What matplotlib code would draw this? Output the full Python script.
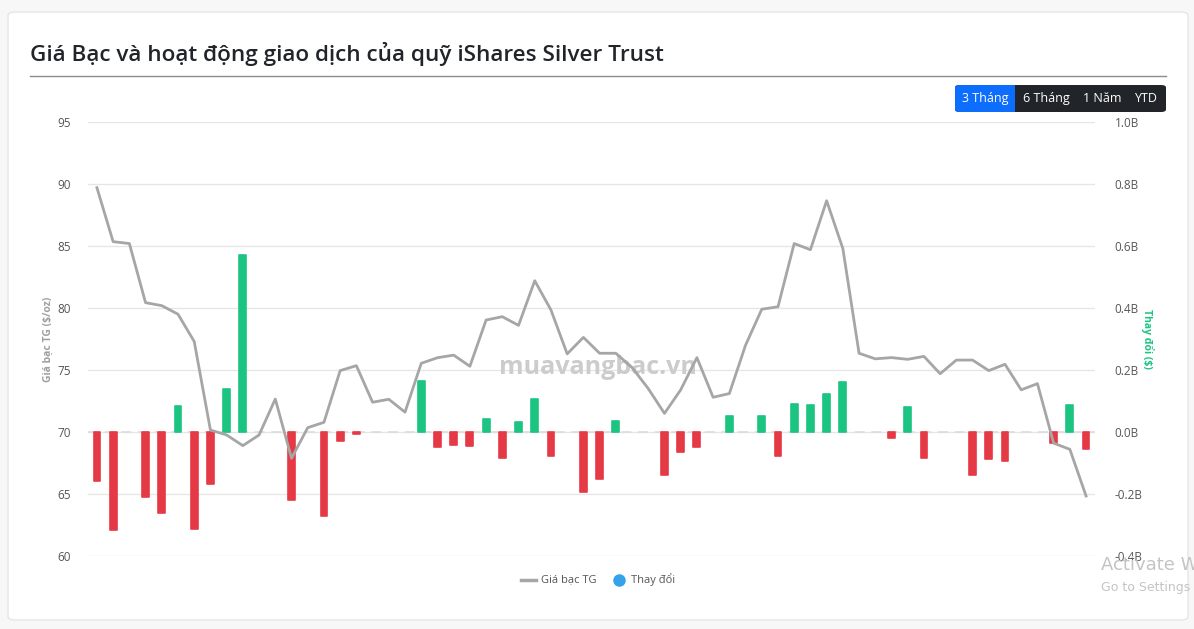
import numpy as np
import matplotlib
matplotlib.use("Agg")
import matplotlib.pyplot as plt
from matplotlib.patches import FancyBboxPatch, Rectangle
from matplotlib.lines import Line2D

# silver price (USD/oz) and daily fund flow change (billion USD), 62 sessions
price = [89.7, 85.35, 85.2, 80.43, 80.19, 79.5, 77.3, 70.16, 69.76, 68.9,
         69.76, 72.66, 67.88, 70.35, 70.78, 74.95, 75.35, 72.4, 72.64, 71.6,
         75.54, 75.99, 76.2, 75.3, 79.03, 79.3, 78.6, 82.2, 79.84, 76.3,
         77.63, 76.35, 76.35, 75.2, 73.5, 71.5, 73.4, 76.0, 72.8, 73.1,
         77.0, 79.9, 80.1, 85.2, 84.7, 88.65, 84.8, 76.35, 75.9, 76.0,
         75.86, 76.1, 74.7, 75.8, 75.8, 74.95, 75.46, 73.4, 73.9, 69.1,
         68.6, 64.84]
change = [-0.157, -0.316, 0, -0.21, -0.262, 0.085, -0.313, -0.167, 0.14, 0.57,
          0, 0, -0.22, 0, -0.272, -0.03, -0.005, 0, 0, 0,
          0.163, -0.05, -0.042, -0.044, 0.042, -0.084, 0.032, 0.106, -0.077, 0,
          -0.192, -0.152, 0.037, 0, 0, -0.14, -0.063, -0.05, 0, 0.05,
          0, 0.05, -0.077, 0.09, 0.087, 0.123, 0.16, 0, 0, -0.02,
          0.082, -0.085, 0, 0, -0.139, -0.087, -0.092, 0, 0, -0.036,
          0.086, -0.055]

left_ticks = [60, 65, 70, 75, 80, 85, 90, 95]
right_ticks = [-0.4, -0.2, 0.0, 0.2, 0.4, 0.6, 0.8, 1.0]
buttons = ["3 Tháng", "6 Tháng", "1 Năm", "YTD"]
title = "Giá Bạc và hoạt động giao dịch của quỹ iShares Silver Trust"

W, H = 1194, 629
GREEN = "#1cc482"
RED = "#e63946"
GRAY = "#a6a6a6"
plt.rcParams["font.family"] = ["Open Sans", "DejaVu Sans"]

fig = plt.figure(figsize=(W / 100, H / 100), dpi=100, facecolor="#f7f7f7")


def fx(x):
    return x / W


def fy(y):
    return 1 - y / H


# card background
card = FancyBboxPatch((fx(8), fy(620)), fx(1180), fy(12) - fy(620),
                      boxstyle="round,pad=0,rounding_size=0.006",
                      transform=fig.transFigure, facecolor="white",
                      edgecolor="#e6e6e6", lw=1, zorder=-5)
fig.patches.append(card)

fig.text(fx(30), fy(54), title, fontsize=16.2, fontweight=600,
         color="#212529", va="center", ha="left")
fig.add_artist(Line2D([fx(30), fx(1166)], [fy(76), fy(76)],
                      transform=fig.transFigure, color="#8c8c8c", lw=1))

# period buttons
bx = [955, 1015, 1077, 1127, 1166]
grp = FancyBboxPatch((fx(955), fy(112)), fx(211), fy(85) - fy(112),
                     boxstyle="round,pad=0,rounding_size=0.004",
                     transform=fig.transFigure, facecolor="#212529",
                     edgecolor="none", zorder=1)
fig.patches.append(grp)
fig.patches.append(FancyBboxPatch((fx(955), fy(112)), fx(60), fy(85) - fy(112),
                                  boxstyle="round,pad=0,rounding_size=0.004",
                                  transform=fig.transFigure, facecolor="#0d6efd",
                                  edgecolor="none", zorder=2))
fig.patches.append(Rectangle((fx(1005), fy(112)), fx(10), fy(85) - fy(112),
                             transform=fig.transFigure, facecolor="#0d6efd",
                             edgecolor="none", zorder=2))
for i, b in enumerate(buttons):
    fig.text(fx((bx[i] + bx[i + 1]) / 2), fy(98.5), b, fontsize=9,
             color="white", ha="center", va="center", zorder=3)

# main axes: grid + left labels
ax = fig.add_axes([fx(88), fy(556), fx(1095) - fx(88), fy(122) - fy(556)])
ax.set_facecolor("none")
x = np.arange(len(price))
ax.set_ylim(60, 95)
ax.set_xlim(-0.55, len(price) - 0.45)
ax.set_yticks(left_ticks)
ax.set_xticks([])
ax.grid(axis="y", color="#e6e6e6", lw=1)
ax.set_axisbelow(True)
ax.tick_params(axis="y", length=0, pad=12, labelsize=8.5, labelcolor="#555555")

# bars on the right axis
ax2 = ax.twinx()
ax2.set_ylim(-0.4, 1.0)
ax2.set_yticks(right_ticks)
ax2.set_yticklabels([f"{t:.1f}B" for t in right_ticks])
ax2.tick_params(axis="y", length=0, pad=14, labelsize=8.5, labelcolor="#555555")
ax2.axhline(0, color="#dcdcdc", lw=1.2, ls=(0, (6, 4)), zorder=1)

ch = np.array(change)
mask = ch != 0
colors = [GREEN if v > 0 else RED for v in ch[mask]]
ax2.bar(x[mask], ch[mask], width=0.42, color=colors, edgecolor=colors,
        lw=1.2, joinstyle="round", zorder=2)

ax2.text(0.506, 0.435, "muavangbac.vn", transform=ax2.transAxes,
         fontsize=18, fontweight="bold", color="#cccccc", ha="center",
         va="center", zorder=1)

# price line on top of bars
ax3 = ax.twinx()
ax3.set_ylim(60, 95)
ax3.axis("off")
ax3.plot(x, price, color=GRAY, lw=2, solid_joinstyle="round", zorder=3)

for a in (ax, ax2):
    for s in a.spines.values():
        s.set_visible(False)

fig.text(fx(48), fy(339), "Giá bạc TG ($/oz)", rotation=90, fontsize=7.5,
         fontweight="bold", color="#a0a0a0", ha="center", va="center")
fig.text(fx(1148), fy(339), "Thay đổi ($)", rotation=270, fontsize=7.5,
         fontweight="bold", color=GREEN, ha="center", va="center")

# legend
fig.add_artist(Line2D([fx(521), fx(536)], [fy(580), fy(580)],
                      transform=fig.transFigure, color=GRAY, lw=2.5))
fig.text(fx(541), fy(580), "Giá bạc TG", fontsize=8, color="#555555",
         va="center")
fig.add_artist(Line2D([fx(619)], [fy(580)], transform=fig.transFigure,
                      marker="o", ms=8, color="#36a2eb", lw=0))
fig.text(fx(631), fy(580), "Thay đổi", fontsize=8, color="#555555",
         va="center")

fig.text(fx(1101), fy(565), "Activate W", fontsize=13, color="#c4c4c4",
         va="center", family="DejaVu Sans")
fig.text(fx(1101), fy(588), "Go to Settings", fontsize=9, color="#c4c4c4",
         va="center", family="DejaVu Sans")

fig.savefig("out.png", dpi=100, facecolor=fig.get_facecolor())
